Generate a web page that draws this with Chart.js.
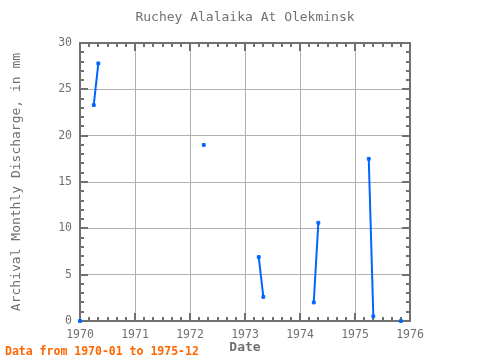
<!DOCTYPE html>
<html>
<head>
<meta charset="utf-8">
<script src="https://cdn.jsdelivr.net/npm/chart.js@4/dist/chart.umd.min.js"></script>
<style>
html,body{margin:0;padding:0;background:#fff;}
#wrap{width:480px;height:360px;position:relative;}
</style>
</head>
<body>
<div id="wrap"><canvas id="c" width="480" height="360"></canvas></div>
<script>
const titleText = 'Ruchey Alalaika At Olekminsk';
const yTitle = 'Archival Monthly Discharge, in mm';
const xTitle = 'Date';
const footerText = 'Data from 1970-01 to 1975-12';
const months = ['1970-01','1970-04','1970-05','1972-04','1973-04','1973-05','1974-04','1974-05','1975-04','1975-05','1975-11'];
const discharge = [0, 23.3, 27.8, 19.0, 6.9, 2.6, 2.0, 10.6, 17.5, 0.5, 0];
const yearTicks = [1970,1971,1972,1973,1974,1975,1976];
const yTicks = [0,5,10,15,20,25,30];

function monthToYear(s){const p=s.split('-');return +p[0]+(+p[1]-1)/12;}
const points = months.map((m,i)=>({x:monthToYear(m),y:discharge[i]}));

const FONT = "'DejaVu Sans Mono', monospace";
const GREY = '#707070';

const framePlugin = {
  id:'frame',
  beforeDatasetsDraw(chart){
    const ctx=chart.ctx, a=chart.chartArea, xs=chart.scales.x, ys=chart.scales.y;
    ctx.save();
    ctx.strokeStyle=GREY; ctx.lineWidth=2;
    ctx.strokeRect(a.left,a.top,a.right-a.left,a.bottom-a.top);
    ctx.beginPath();
    for(let k=0;k<=36;k++){
      const v=1970+k/6, px=Math.round(xs.getPixelForValue(v));
      const len=(k%6===0)?8:4;
      ctx.moveTo(px,a.bottom); ctx.lineTo(px,a.bottom-len);
      ctx.moveTo(px,a.top); ctx.lineTo(px,a.top+len);
    }
    for(let v=0;v<=30;v++){
      const py=Math.round(ys.getPixelForValue(v));
      const len=(v%5===0)?8:4;
      ctx.moveTo(a.left,py); ctx.lineTo(a.left+len,py);
      ctx.moveTo(a.right,py); ctx.lineTo(a.right-len,py);
    }
    ctx.lineWidth=2; ctx.stroke();
    ctx.fillStyle=GREY; ctx.font="13px "+FONT; ctx.textAlign='center'; ctx.textBaseline='middle';
    ctx.fillText(titleText,(a.left+a.right)/2,18);
    ctx.fillStyle='#ff6600'; ctx.font="bold 11.5px "+FONT; ctx.textAlign='left';
    ctx.fillText(footerText,5,352);
    ctx.restore();
  }
};

new Chart(document.getElementById('c'),{
  type:'line',
  data:{datasets:[{
    data:points,
    borderColor:'#0066ff',backgroundColor:'#0066ff',
    borderWidth:2,pointRadius:2,pointStyle:'rect',pointBorderWidth:1,
    spanGaps:0.1,tension:0,clip:false
  }]},
  options:{
    responsive:false,animation:false,devicePixelRatio:1,
    layout:{padding:{top:43,right:70,left:0,bottom:0}},
    plugins:{legend:{display:false},tooltip:{enabled:false},title:{display:false}},
    scales:{
      x:{type:'linear',min:1970,max:1976,
        afterBuildTicks(s){s.ticks=yearTicks.map(v=>({value:v}));},
        afterFit(s){s.height=39;},
        grid:{color:'#b0b0b0',lineWidth:1,drawTicks:false},
        border:{display:false},
        ticks:{color:GREY,font:{family:FONT,size:11.5},padding:7,maxRotation:0,callback:v=>String(v)},
        title:{display:true,text:xTitle,color:GREY,font:{family:FONT,size:13,weight:'bold'},padding:{top:0,bottom:5}}
      },
      y:{min:0,max:30,
        afterBuildTicks(s){s.ticks=yTicks.map(v=>({value:v}));},
        afterFit(s){s.width=80;},
        grid:{color:'#b0b0b0',lineWidth:1,drawTicks:false},
        border:{display:false},
        ticks:{color:GREY,font:{family:FONT,size:11.5},padding:8},
        title:{display:true,text:yTitle,color:GREY,font:{family:FONT,size:13},padding:{top:9,bottom:0}}
      }
    }
  },
  plugins:[framePlugin]
});
</script>
</body>
</html>
